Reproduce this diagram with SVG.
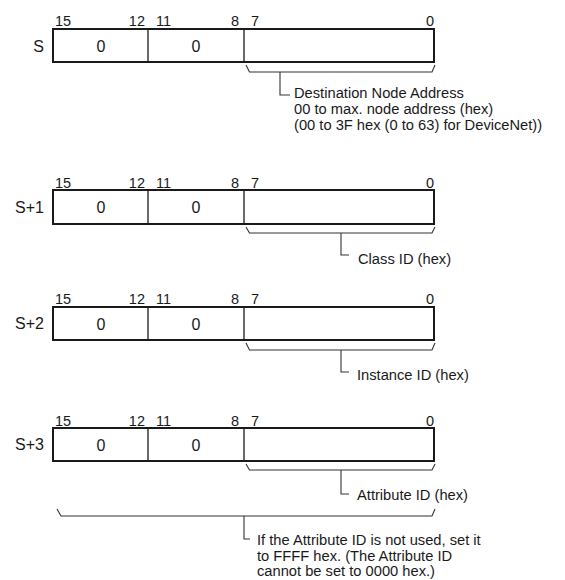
<svg xmlns="http://www.w3.org/2000/svg" width="565" height="580" viewBox="0 0 565 580">
<style>
.box{fill:#fff;stroke:#1a1a1a;stroke-width:2}
.div{stroke:#1a1a1a;stroke-width:1.3;fill:none}
.br{stroke:#333;stroke-width:1.1;fill:none}
.t{font-family:"Liberation Sans",Arial,sans-serif;fill:#1a1a1a}
.bit{font-size:14.5px}
.lbl{font-size:16px;text-anchor:end}
.val{font-size:16px;text-anchor:middle}
.ann{font-size:14.7px}
</style>
<rect width="565" height="580" fill="#fff"/>
<g id="word-S">
<text class="t bit" x="55" y="26">15</text>
<text class="t bit" x="145" y="26" text-anchor="end">12</text>
<text class="t bit" x="156" y="26">11</text>
<text class="t bit" x="239" y="26" text-anchor="end">8</text>
<text class="t bit" x="251" y="26">7</text>
<text class="t bit" x="434" y="26" text-anchor="end">0</text>
<text class="t lbl" x="44" y="51.5">S</text>
<rect class="box" x="53" y="29" width="381" height="33"/>
<line class="div" x1="148" y1="29" x2="148" y2="62"/>
<line class="div" x1="244" y1="29" x2="244" y2="62"/>
<text class="t val" x="101" y="51.5">0</text>
<text class="t val" x="196" y="51.5">0</text>
</g>
<g id="word-S1">
<text class="t bit" x="55" y="188">15</text>
<text class="t bit" x="145" y="188" text-anchor="end">12</text>
<text class="t bit" x="156" y="188">11</text>
<text class="t bit" x="239" y="188" text-anchor="end">8</text>
<text class="t bit" x="251" y="188">7</text>
<text class="t bit" x="434" y="188" text-anchor="end">0</text>
<text class="t lbl" x="44" y="213">S+1</text>
<rect class="box" x="53" y="190" width="381" height="34"/>
<line class="div" x1="148" y1="190" x2="148" y2="224"/>
<line class="div" x1="244" y1="190" x2="244" y2="224"/>
<text class="t val" x="101" y="213">0</text>
<text class="t val" x="196" y="213">0</text>
</g>
<g id="word-S2">
<text class="t bit" x="55" y="304">15</text>
<text class="t bit" x="145" y="304" text-anchor="end">12</text>
<text class="t bit" x="156" y="304">11</text>
<text class="t bit" x="239" y="304" text-anchor="end">8</text>
<text class="t bit" x="251" y="304">7</text>
<text class="t bit" x="434" y="304" text-anchor="end">0</text>
<text class="t lbl" x="44" y="329">S+2</text>
<rect class="box" x="53" y="307" width="381" height="33"/>
<line class="div" x1="148" y1="307" x2="148" y2="340"/>
<line class="div" x1="244" y1="307" x2="244" y2="340"/>
<text class="t val" x="101" y="329.5">0</text>
<text class="t val" x="196" y="329.5">0</text>
</g>
<g id="word-S3">
<text class="t bit" x="55" y="426">15</text>
<text class="t bit" x="145" y="426" text-anchor="end">12</text>
<text class="t bit" x="156" y="426">11</text>
<text class="t bit" x="239" y="426" text-anchor="end">8</text>
<text class="t bit" x="251" y="426">7</text>
<text class="t bit" x="434" y="426" text-anchor="end">0</text>
<text class="t lbl" x="44" y="450">S+3</text>
<rect class="box" x="53" y="428" width="381" height="33"/>
<line class="div" x1="148" y1="428" x2="148" y2="461"/>
<line class="div" x1="244" y1="428" x2="244" y2="461"/>
<text class="t val" x="101" y="450.5">0</text>
<text class="t val" x="196" y="450.5">0</text>
</g>
<g id="connectors">
<path class="br" d="M246,65 L249.5,72 L432,72 L435,65 M280,72 V95 H290"/>
<path class="br" d="M246,227 L249.5,233 L432,233 L435,227 M341,233 V255 H349"/>
<path class="br" d="M246,343 L249.5,350 L432,350 L435,343 M341,350 V372 H349"/>
<path class="br" d="M246,464 L249.5,470 L432,470 L435,464 M341,470 V494 H349"/>
<path class="br" d="M57,509 L61,516 L432,516 L435,509 M244,516 V539 H250"/>
</g>
<g id="notes">
<text class="t ann" x="294" y="98">Destination Node Address</text>
<text class="t ann" x="294" y="114">00 to max. node address (hex)</text>
<text class="t ann" x="294" y="130">(00 to 3F hex (0 to 63) for DeviceNet))</text>
<text class="t ann" x="358" y="264">Class ID (hex)</text>
<text class="t ann" x="357" y="380">Instance ID (hex)</text>
<text class="t ann" x="357" y="500">Attribute ID (hex)</text>
<text class="t ann" x="257" y="545">If the Attribute ID is not used, set it</text>
<text class="t ann" x="257" y="560.5">to FFFF hex. (The Attribute ID</text>
<text class="t ann" x="257" y="576">cannot be set to 0000 hex.)</text>
</g>
</svg>
